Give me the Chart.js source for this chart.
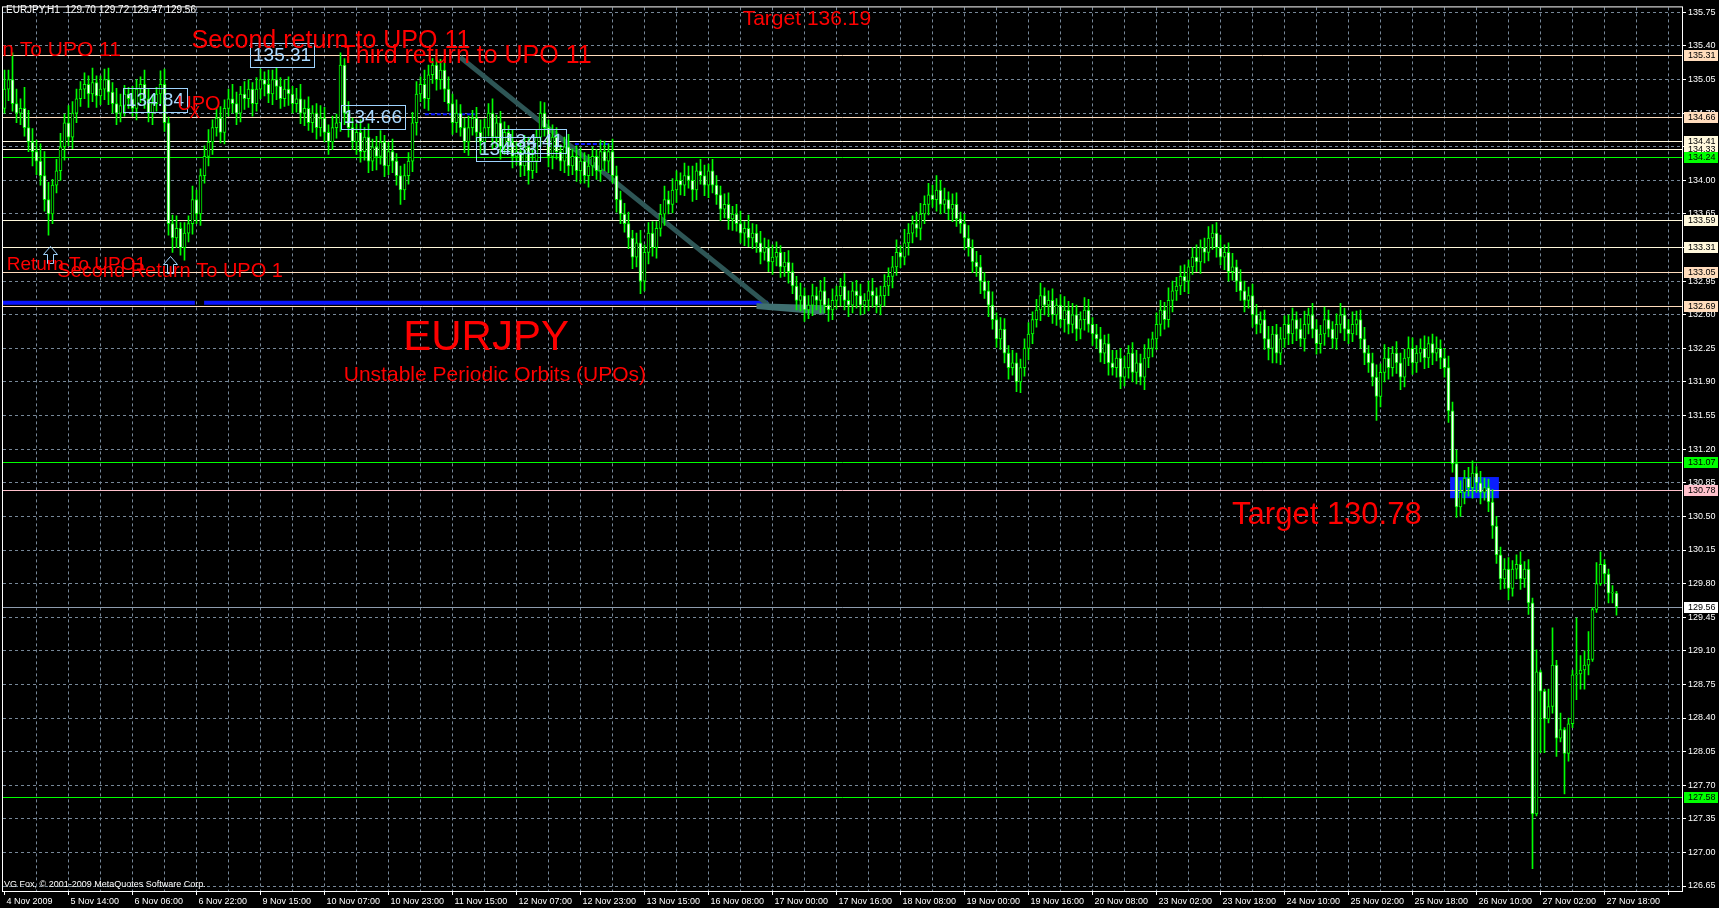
<!DOCTYPE html>
<html>
<head>
<meta charset="utf-8">
<title>EURJPY H1 - Unstable Periodic Orbits</title>
<script src="https://cdn.jsdelivr.net/npm/chart.js@4/dist/chart.umd.min.js"></script>
<style>
  html, body { margin: 0; padding: 0; background: #000; overflow: hidden; }
  #wrap { width: 1719px; height: 908px; }
</style>
</head>
<body>
<div id="wrap"><canvas id="chart"></canvas></div>
<script>
const FONT = "'Liberation Sans', Arial, sans-serif";

// hourly candles, bar 0 = 4 Nov 2009 22:00
const firstOpen = 134.75;
const closes = [
  134.95,135.05,134.80,134.70,134.75,134.55,134.40,134.30,134.20,134.05,133.80,133.65,133.95,
  134.10,134.35,134.60,134.45,134.70,134.85,
  134.95,135.00,134.90,135.02,134.88,134.95,135.05,134.92,134.80,134.70,134.78,134.90,
  134.85,134.75,134.95,135.00,134.85,134.70,134.80,134.90,
  135.00,134.60,133.55,
  133.40,133.50,133.30,133.45,
  133.55,133.80,133.65,134.05,134.25,
  134.40,134.55,134.65,134.50,134.75,
  134.85,134.80,134.70,134.90,134.85,134.95,134.80,
  134.95,135.05,135.00,134.90,135.05,134.98,134.85,134.95,134.90,134.80,
  134.85,134.70,134.75,134.60,134.70,134.55,134.65,134.50,134.40,134.55,
  134.60,135.20,134.70,
  134.55,134.40,134.50,134.30,134.45,134.20,134.35,134.25,134.40,134.15,134.30,134.20,134.05,
  133.90,134.05,134.20,
  134.60,134.90,135.00,134.85,135.10,135.20,135.05,
  135.15,134.95,134.80,134.60,134.70,134.55,134.40,134.55,
  134.65,134.50,134.40,134.55,134.70,134.45,134.60,134.35,134.50,
  134.40,134.25,134.30,134.15,134.35,134.10,134.20,
  134.45,134.70,134.55,134.25,134.45,
  134.30,134.20,134.35,134.15,134.25,134.10,134.20,134.05,134.15,134.25,134.10,134.30,134.20,
  134.30,134.05,133.80,133.65,133.55,133.40,
  133.20,133.35,132.95,133.25,133.45,133.30,
  133.50,133.65,133.80,133.75,133.90,134.00,
  133.95,134.05,134.00,133.90,134.10,134.05,133.95,134.10,
  133.95,133.85,133.70,133.75,133.60,133.65,133.55,133.45,133.50,133.40,
  133.45,133.35,133.25,133.30,133.15,133.20,133.25,133.10,133.15,133.05,
  132.90,132.75,132.80,132.65,132.70,132.80,
  132.75,132.85,132.70,132.65,132.75,132.80,132.90,132.75,132.70,132.85,132.80,132.70,132.75,132.85,132.80,132.70,132.80,132.90,
  133.00,133.10,133.25,133.20,133.35,133.45,
  133.55,133.50,133.65,133.75,133.85,133.80,
  133.90,133.75,133.80,133.70,133.75,133.60,
  133.55,133.40,133.30,133.15,133.10,132.95,132.85,
  132.70,132.55,132.35,132.45,132.20,132.05,132.10,131.90,
  132.05,132.25,132.40,132.55,132.65,132.80,132.70,
  132.75,132.60,132.70,132.55,132.65,132.50,132.60,132.45,132.55,132.65,132.50,132.40,
  132.35,132.20,132.30,132.10,132.05,132.15,131.95,132.05,132.20,132.00,132.10,131.95,132.15,132.25,
  132.35,132.50,132.65,132.55,132.75,132.85,
  132.90,133.00,132.95,133.10,133.20,133.15,133.30,133.25,133.40,133.45,
  133.30,133.20,133.25,133.05,133.10,132.95,132.85,
  132.75,132.80,132.60,132.50,132.55,132.35,132.25,132.40,132.20,
  132.35,132.50,132.40,132.55,132.45,132.35,132.50,132.60,132.45,132.30,132.40,132.55,132.45,132.35,132.50,132.60,132.45,
  132.40,132.50,132.55,132.35,132.20,132.10,131.95,131.75,132.00,
  132.15,132.05,132.20,132.10,131.95,132.15,132.25,132.10,
  132.20,132.25,132.15,132.30,132.20,132.25,132.15,132.05,
  131.60,131.05,130.60,130.75,
  130.90,130.80,130.95,130.85,130.75,130.80,130.65,
  130.40,130.10,129.85,129.95,129.75,
  129.95,130.00,129.85,129.95,129.60,
  127.40,128.88,128.68,128.39,128.52,128.95,128.19,128.28,128.03,128.34,128.85,128.86,128.90,128.95,129.01,129.53,129.80,130.00,129.90,129.70,129.70,129.56
];
// shadow lengths in pips (0.01)
const upperWicks = [
  20,10,28,15,10,22,18,14,12,18,25,18,6,12,14,9,18,12,10,8,
  12,9,15,7,14,11,12,10,16,12,9,7,13,10,8,15,11,9,7,14,
  16,6,9,13,6,11,8,14,10,7,11,13,8,10,12,9,10,15,12,8,
  13,10,7,12,11,8,15,10,12,9,10,13,8,11,15,9,12,8,10,13,
  11,8,12,9,13,7,12,10,9,13,10,14,8,11,12,7,10,13,8,10,
  12,9,11,13,8,15,10,7,12,11,8,13,10,14,9,10,12,8,11,13,
  9,10,15,8,12,11,7,13,10,9,12,10,14,8,12,11,8,13,10,7,
  10,13,8,11,14,9,12,10,7,12,11,8,13,10,9,11,12,8,10,13,
  8,11,12,7,10,14,9,12,10,8,13,10,15,8,12,11,7,12,10,9,
  11,12,8,10,13,7,14,10,9,12,10,8,13,11,7,10,12,9,10,13,
  8,10,12,9,11,14,7,12,10,8,13,10,9,11,12,7,10,13,8,10,
  12,9,11,13,7,14,10,8,12,11,9,12,10,15,10,12,8,11,12,7,
  10,13,8,11,12,9,10,14,7,12,11,8,13,10,9,10,12,8,11,13,
  8,10,12,7,11,14,9,12,10,8,13,11,7,10,12,9,10,13,8,10,
  12,8,11,13,9,14,10,7,12,10,8,13,10,9,11,12,7,10,13,8,
  10,12,9,11,13,8,10,14,7,12,10,9,12,11,8,10,13,8,10,12,
  9,10,12,8,11,14,7,12,10,9,13,10,8,11,12,7,10,13,9,10,
  12,8,10,13,9,14,11,7,12,10,9,12,11,8,10,13,7,10,12,9,
  10,12,9,14,12,8,11,13,7,12,10,9,13,10,8,11,12,9,10,13,8,10,
  5,23,2,2,18,39,5,17,2,6,5,58,15,15,29,2,22,13,5,5,8,2
];
const lowerWicks = [
  5,12,8,10,12,9,10,15,14,10,12,22,10,8,10,14,9,12,10,8,
  10,14,8,12,9,11,13,10,12,9,11,10,8,12,14,10,9,12,8,10,
  9,12,15,10,8,13,9,11,10,12,8,10,13,9,11,12,8,10,12,9,
  11,9,13,8,10,12,9,11,14,10,8,12,10,9,11,13,8,10,12,9,
  10,13,8,11,9,12,10,8,13,11,9,12,10,14,8,11,9,12,10,15,
  10,9,11,13,8,10,12,9,11,10,13,8,12,10,9,11,14,8,10,12,
  11,9,12,10,13,8,10,12,9,11,10,14,8,12,10,9,11,13,8,10,
  12,10,9,11,13,8,12,10,9,11,10,12,8,13,10,9,11,12,10,13,
  10,12,9,11,8,12,10,9,13,10,11,8,12,10,9,11,13,8,10,12,
  9,11,12,8,10,13,9,11,10,12,8,10,13,9,11,10,12,8,10,11,
  12,9,11,10,13,8,12,10,9,11,10,12,8,13,10,9,11,12,8,10,
  11,10,12,9,11,8,13,10,9,12,10,11,8,12,10,9,11,13,8,10,
  12,9,11,10,13,8,12,10,9,11,10,12,8,10,11,9,12,10,8,11,
  10,12,9,11,8,13,10,9,12,10,11,8,12,10,9,11,13,8,10,12,
  9,11,10,12,8,13,10,9,11,12,10,8,12,10,9,11,13,8,10,12,
  11,9,12,10,8,13,10,9,11,10,12,8,13,10,9,11,12,15,10,12,
  9,11,10,12,8,13,10,9,11,10,12,8,10,11,9,12,10,8,11,10,
  12,10,9,25,11,10,12,9,11,13,10,8,12,10,9,11,10,12,8,11,
  10,12,9,11,10,12,9,11,10,12,8,10,13,9,11,10,12,8,10,11,9,12,
  57,2,64,35,4,7,19,4,42,8,4,26,16,20,10,2,3,2,10,10,10,9
];

const yTicks = [135.75,135.40,135.05,134.70,134.35,134.00,133.65,133.30,132.95,132.60,132.25,131.90,131.55,
  131.20,130.85,130.50,130.15,129.80,129.45,129.10,128.75,128.40,128.05,127.70,127.35,127.00,126.65];
const xLabels = ['4 Nov 2009','5 Nov 14:00','6 Nov 06:00','6 Nov 22:00','9 Nov 15:00','10 Nov 07:00','10 Nov 23:00',
  '11 Nov 15:00','12 Nov 07:00','12 Nov 23:00','13 Nov 15:00','16 Nov 08:00','17 Nov 00:00','17 Nov 16:00',
  '18 Nov 08:00','19 Nov 00:00','19 Nov 16:00','20 Nov 08:00','23 Nov 02:00','23 Nov 18:00','24 Nov 10:00',
  '25 Nov 02:00','25 Nov 18:00','26 Nov 10:00','27 Nov 02:00','27 Nov 18:00'];
const priceLines = [135.31,134.66,134.41,134.33,134.24,133.59,133.31,133.05,132.69,131.07,130.78,129.56,127.58];
const priceBoxes = [135.31,134.84,134.66,134.33,134.41];

const opens = [firstOpen].concat(closes.slice(0, -1));
const highs = closes.map((c, i) => Math.max(c, opens[i]) + upperWicks[i] / 100);
const lows = closes.map((c, i) => Math.min(c, opens[i]) - lowerWicks[i] / 100);

const PEACH = '#ffdcbc', CREAM = '#fff8dc', LIME = '#00ff00';
const lineStyle = {
  135.31: PEACH, 134.66: PEACH, 134.41: CREAM, 134.33: CREAM, 134.24: LIME, 133.59: CREAM,
  133.31: CREAM, 133.05: PEACH, 132.69: PEACH, 131.07: LIME, 130.78: '#ffc0cb', 129.56: '#8e9cae', 127.58: LIME
};

// chart objects drawn in price/bar space
const overlay = {
  beforeDraw(chart) {
    const c = chart.ctx;
    c.save();
    c.fillStyle = '#000';
    c.fillRect(0, 0, chart.width, chart.height);
    c.restore();
  },
  beforeDatasetsDraw(chart) {
    const c = chart.ctx, x = chart.scales.x, y = chart.scales.y, a = chart.chartArea;
    c.save();
    c.beginPath();
    c.rect(a.left, a.top, a.right - a.left, a.bottom - a.top);
    c.clip();

    // target zone box
    c.fillStyle = '#0a1eff';
    c.fillRect(x.getPixelForValue(361.4), y.getPixelForValue(130.91),
      x.getPixelForValue(373.6) - x.getPixelForValue(361.4), y.getPixelForValue(130.69) - y.getPixelForValue(130.91));

    // horizontal levels
    priceLines.forEach(p => {
      const py = Math.round(y.getPixelForValue(p)) + 0.5;
      c.strokeStyle = lineStyle[p];
      c.lineWidth = 1;
      c.beginPath(); c.moveTo(a.left, py); c.lineTo(a.right, py); c.stroke();
    });

    // thick blue trend lines at UPO level
    c.strokeStyle = '#0a14ff';
    c.lineWidth = 4;
    [[-1, 47.6], [49.9, 190.9]].forEach(s => {
      const py = y.getPixelForValue(132.725);
      c.beginPath(); c.moveTo(x.getPixelForValue(s[0]), py); c.lineTo(x.getPixelForValue(s[1]), py); c.stroke();
    });
    c.lineWidth = 2;
    c.setLineDash([4, 2]);
    [[105.1, 117.6, 134.69], [142.6, 152.1, 134.38]].forEach(s => {
      const py = y.getPixelForValue(s[2]);
      c.beginPath(); c.moveTo(x.getPixelForValue(s[0]), py); c.lineTo(x.getPixelForValue(s[1]), py); c.stroke();
    });
    c.setLineDash([]);

    // descending channel line
    c.strokeStyle = '#2e5656';
    c.lineWidth = 5;
    c.beginPath();
    c.moveTo(x.getPixelForValue(113.9), y.getPixelForValue(135.284));
    c.lineTo(x.getPixelForValue(190.9), y.getPixelForValue(132.703));
    c.stroke();
    c.fillStyle = '#3f6f70';
    c.beginPath();
    c.moveTo(x.getPixelForValue(188), y.getPixelForValue(132.72));
    c.lineTo(x.getPixelForValue(205), y.getPixelForValue(132.70));
    c.lineTo(x.getPixelForValue(205), y.getPixelForValue(132.60));
    c.lineTo(x.getPixelForValue(188), y.getPixelForValue(132.66));
    c.closePath();
    c.fill();
    c.restore();
  },
  afterDraw(chart) {
    const c = chart.ctx, x = chart.scales.x, y = chart.scales.y, a = chart.chartArea;
    const px = v => x.getPixelForValue(v), py = v => y.getPixelForValue(v);
    c.save();
    c.beginPath();
    c.rect(a.left, a.top, a.right - a.left, a.bottom - a.top);
    c.clip();

    // up arrows under the returns
    c.strokeStyle = '#9fd4ff';
    c.lineWidth = 1;
    [[11.4, 133.314], [41.4, 133.21]].forEach(p => {
      const tx = Math.round(px(p[0])) + 0.5, ty = Math.round(py(p[1])) + 0.5;
      c.beginPath();
      c.moveTo(tx, ty);
      c.lineTo(tx + 7, ty + 8); c.lineTo(tx + 3, ty + 8); c.lineTo(tx + 3, ty + 17);
      c.lineTo(tx - 3, ty + 17); c.lineTo(tx - 3, ty + 8); c.lineTo(tx - 7, ty + 8);
      c.closePath();
      c.stroke();
    });

    // price label boxes
    c.font = '19px ' + FONT;
    c.textAlign = 'center';
    c.textBaseline = 'middle';
    const boxBars = [69.4, 37.6, 92.1, 125.9, 132.4];
    priceBoxes.forEach((p, i) => {
      const cx = px(boxBars[i]), cy = py(p);
      const t = p.toFixed(2);
      const w = c.measureText(t).width + 6;
      c.strokeStyle = '#9fd4ff';
      c.strokeRect(Math.round(cx - w / 2) + 0.5, Math.round(cy - 12) + 0.5, Math.round(w), 24);
      c.fillStyle = '#a8d8ff';
      c.fillText(t, cx, cy + 1);
    });

    // red annotations
    c.fillStyle = '#ff0000';
    const notes = [
      ['Target 136.19', 200.6, 135.677, 21, 'center'],
      ['Second return to UPO 11', 81.6, 135.45, 25, 'center'],
      ['Third return to UPO 11', 115.4, 135.29, 25, 'center'],
      ['First Return To UPO 11', 29.1, 135.36, 21, 'right'],
      ['First Return To UPO1', 35.4, 133.12, 19, 'right'],
      ['Second Return To UPO 1', 41.4, 133.05, 20, 'center'],
      ['EURJPY', 120.4, 132.35, 42, 'center'],
      ['Unstable Periodic Orbits (UPOs)', 122.6, 131.97, 21, 'center'],
      ['Target 130.78', 330.6, 130.505, 31, 'center'],
      ['UPO', 48.6, 134.79, 20, 'center'],
      ['X', 47.6, 134.70, 16, 'center']
    ];
    notes.forEach(n => {
      c.font = n[3] + 'px ' + FONT;
      c.textAlign = n[4];
      c.fillText(n[0], px(n[1]), py(n[2]));
    });
    c.restore();

    c.save();
    // chart frame
    c.strokeStyle = '#ffffff';
    c.lineWidth = 1;
    c.strokeRect(a.left - 0.5, a.top - 0.5, a.right - a.left + 1, a.bottom - a.top + 1);

    // header and footer
    c.fillStyle = '#ffffff';
    c.font = '10px ' + FONT;
    c.textAlign = 'left';
    c.textBaseline = 'middle';
    c.fillText('EURJPY,H1  129.70 129.72 129.47 129.56', 6, 10);
    c.font = '9px ' + FONT;
    c.fillText('VG Fox, \u00a9 2001-2009 MetaQuotes Software Corp.', 4, 885);

    // level tags on the price axis
    priceLines.forEach(p => {
      const cy = Math.round(py(p));
      c.fillStyle = p === 129.56 ? '#ffffff' : lineStyle[p];
      c.fillRect(a.right + 2, cy - 5, 34, 11);
      c.fillStyle = '#000000';
      c.fillText(p.toFixed(2), a.right + 6, cy + 0.5);
    });
    c.restore();
  }
};

new Chart(document.getElementById('chart'), {
  type: 'bar',
  data: {
    datasets: [{
      label: 'body',
      data: closes.map((cl, i) => ({ x: i, y: [opens[i], cl] })),
      backgroundColor: closes.map((cl, i) => cl >= opens[i] ? '#000000' : '#ffffff'),
      borderColor: LIME,
      borderWidth: 1,
      borderSkipped: false,
      barThickness: 3,
      minBarLength: 1,
      grouped: false
    }, {
      label: 'range',
      data: closes.map((cl, i) => ({ x: i, y: [lows[i], highs[i]] })),
      backgroundColor: LIME,
      borderWidth: 0,
      barThickness: 1,
      grouped: false
    }]
  },
  options: {
    responsive: true,
    maintainAspectRatio: false,
    animation: false,
    events: [],
    layout: { padding: { left: 3, top: 3, right: 0, bottom: 0 } },
    plugins: { legend: { display: false }, tooltip: { enabled: false } },
    scales: {
      x: {
        type: 'linear',
        offset: false,
        min: -0.375,
        max: 419.375,
        afterBuildTicks: s => { s.ticks = []; for (let v = 0; v <= 416; v += 8) s.ticks.push({ value: v }); },
        afterFit: s => { s.height = 17; },
        ticks: {
          color: '#ffffff',
          font: { family: FONT, size: 9 },
          autoSkip: false,
          maxRotation: 0,
          align: 'start',
          labelOffset: 2,
          padding: 1,
          callback: v => (v % 16 === 0 && xLabels[v / 16]) ? xLabels[v / 16] : ''
        },
        grid: {
          offset: false,
          color: ctx => (ctx.tick && ctx.tick.value === 0) ? 'rgba(0,0,0,0)' : '#778899',
          tickColor: ctx => (ctx.tick && ctx.tick.value % 16 === 0) ? '#ffffff' : 'rgba(0,0,0,0)',
          tickLength: 4
        },
        border: { display: false, dash: [3, 3] }
      },
      y: {
        type: 'linear',
        position: 'right',
        beginAtZero: false,
        min: 126.598,
        max: 135.802,
        afterBuildTicks: s => { s.ticks = yTicks.map(v => ({ value: v })); },
        afterFit: s => { s.width = 37; },
        ticks: {
          color: '#ffffff',
          font: { family: FONT, size: 9 },
          padding: 2,
          callback: v => Number(v).toFixed(2)
        },
        grid: { color: '#778899', tickColor: '#ffffff', tickLength: 4 },
        border: { display: false, dash: [3, 3] }
      }
    }
  },
  plugins: [overlay]
});
</script>
</body>
</html>
